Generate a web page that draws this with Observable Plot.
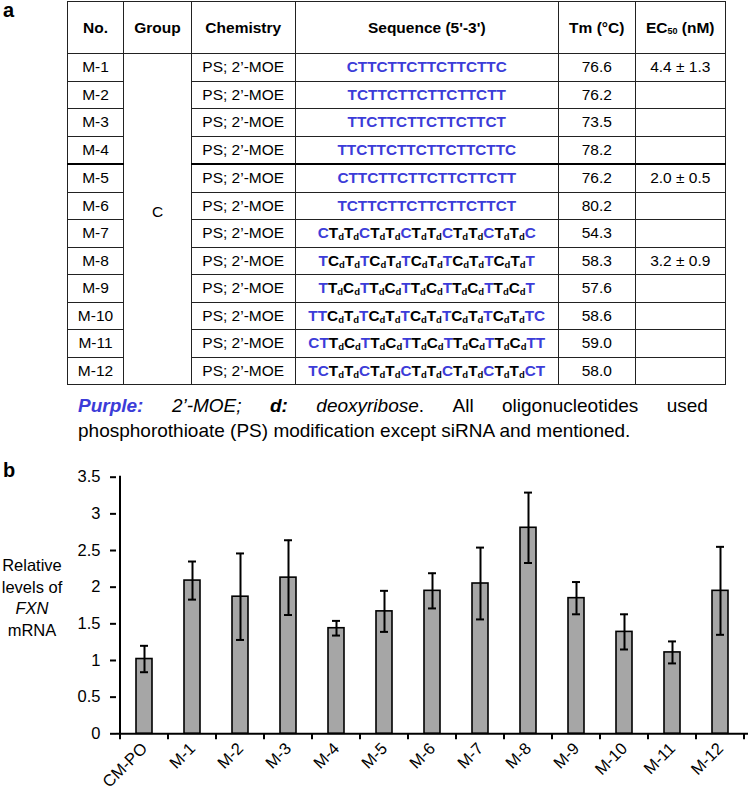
<!DOCTYPE html>
<html><head><meta charset="utf-8">
<script src="https://cdn.jsdelivr.net/npm/d3@7"></script>
<script src="https://cdn.jsdelivr.net/npm/@observablehq/plot@0.6"></script>
<style>
html,body{margin:0;padding:0;background:#fff;}
#wrap{position:relative;width:750px;height:795px;overflow:hidden;font-family:"Liberation Sans",Arial,sans-serif;color:#000;}
.panel{position:absolute;left:3px;font-weight:bold;font-size:20px;line-height:20px;}
table{position:absolute;left:67px;top:1px;border-collapse:collapse;table-layout:fixed;font-size:15.5px;}
td,th{border:1.3px solid #222;padding:0;text-align:center;vertical-align:middle;white-space:nowrap;}
th{height:51px;font-weight:bold;}
td{height:26.5px;}
.seq{font-weight:bold;font-size:15.3px;}
.m{color:#3c3cd8;}
.seq sub{font-size:9.5px;vertical-align:-2px;line-height:0;}
th sub{font-size:9px;vertical-align:-1px;line-height:0;}
tr.sep td{border-top:2.6px solid #000;}
td.grp{padding-bottom:14px;}
#caption{position:absolute;left:78px;top:393px;width:630px;font-size:19px;line-height:25px;}
#cap1{display:flex;justify-content:space-between;white-space:nowrap;}
#cap2{white-space:nowrap;}
#caption .p{color:#3c3cd8;font-weight:bold;font-style:italic;}
#ylab{position:absolute;left:0;top:555px;width:64px;text-align:center;font-size:16.5px;line-height:21.7px;}
#chart{position:absolute;left:0;top:450px;}
</style>
</head><body>
<div id="wrap">
  <div class="panel" style="top:0px">a</div>
  <div class="panel" style="top:460px">b</div>
  <table id="tbl"></table>
  <div id="caption"><div id="cap1"></div><div id="cap2"></div></div>
  <div id="ylab">Relative<br>levels of<br><i>FXN</i><br>mRNA</div>
  <div id="chart"></div>
</div>
<script>
// ---- table data ----
const headers = ["No.", "Group", "Chemistry", "Sequence (5'-3')", "Tm (°C)", "EC<sub>50</sub> (nM)"];
const colWidths = [56, 68, 103.5, 263.5, 76.5, 90.5];
const ids = ["M-1","M-2","M-3","M-4","M-5","M-6","M-7","M-8","M-9","M-10","M-11","M-12"];
const group = "C";
const chemistry = ["PS; 2’-MOE","PS; 2’-MOE","PS; 2’-MOE","PS; 2’-MOE","PS; 2’-MOE","PS; 2’-MOE",
                   "PS; 2’-MOE","PS; 2’-MOE","PS; 2’-MOE","PS; 2’-MOE","PS; 2’-MOE","PS; 2’-MOE"];
// a capital letter followed by "d" is a deoxyribose nucleotide (black, subscript d); otherwise 2'-MOE (purple)
const sequences = [
  "CTTCTTCTTCTTCTTC",
  "TCTTCTTCTTCTTCTT",
  "TTCTTCTTCTTCTTCT",
  "TTCTTCTTCTTCTTCTTC",
  "CTTCTTCTTCTTCTTCTT",
  "TCTTCTTCTTCTTCTTCT",
  "CTdTdCTdTdCTdTdCTdTdCTdTdC",
  "TCdTdTCdTdTCdTdTCdTdTCdTdT",
  "TTdCdTTdCdTTdCdTTdCdTTdCdT",
  "TTCdTdTCdTdTCdTdTCdTdTCdTdTC",
  "CTTdCdTTdCdTTdCdTTdCdTTdCdTT",
  "TCTdTdCTdTdCTdTdCTdTdCTdTdCT"
];
const tm = ["76.6","76.2","73.5","78.2","76.2","80.2","54.3","58.3","57.6","58.6","59.0","58.0"];
const ec50 = ["4.4 ± 1.3","","","","2.0 ± 0.5","","","3.2 ± 0.9","","","",""];

// caption pieces
const captionLine1 = [
  '<span class="p">Purple:</span>', '<i>2’-MOE;</i>', '<b><i>d:</i></b>',
  '<i>deoxyribose</i>.', 'All', 'oligonucleotides', 'used'
];
const captionLine2 = "phosphorothioate (PS) modification except siRNA and mentioned.";

// ---- chart data ----
const categories = ["CM-PO","M-1","M-2","M-3","M-4","M-5","M-6","M-7","M-8","M-9","M-10","M-11","M-12"];
const means  = [1.02, 2.09, 1.87, 2.13, 1.44, 1.67, 1.95, 2.05, 2.81, 1.85, 1.39, 1.11, 1.95];
const errors = [0.18, 0.26, 0.59, 0.51, 0.10, 0.28, 0.24, 0.49, 0.48, 0.22, 0.24, 0.15, 0.60];
const yTicks = [0, 0.5, 1, 1.5, 2, 2.5, 3, 3.5];

// ---- build table ----
function seqHTML(s) {
  let out = "";
  for (let i = 0; i < s.length; i++) {
    const ch = s[i];
    if (s[i+1] === "d") { out += ch + "<sub>d</sub>"; i++; }
    else out += '<span class="m">' + ch + '</span>';
  }
  return out;
}
let html = "<colgroup>" + colWidths.map(w => `<col style="width:${w}px">`).join("") + "</colgroup>";
html += "<tr>" + headers.map(h => `<th>${h}</th>`).join("") + "</tr>";
ids.forEach((id, i) => {
  html += `<tr${i === 4 ? ' class="sep"' : ''}>`;
  html += `<td>${id}</td>`;
  if (i === 0) html += `<td class="grp" rowspan="${ids.length}">${group}</td>`;
  html += `<td>${chemistry[i]}</td><td class="seq">${seqHTML(sequences[i])}</td><td>${tm[i]}</td><td>${ec50[i]}</td></tr>`;
});
document.getElementById("tbl").innerHTML = html;

document.getElementById("cap1").innerHTML = captionLine1.map(p => `<span>${p}</span>`).join("");
document.getElementById("cap2").textContent = captionLine2;

// ---- chart ----
const data = categories.map((c, i) => ({cat: c, mean: means[i], err: errors[i]}));

// Excel-style axes: y-axis line at the left band edge, x ticks on category boundaries
function excelAxes(index, scales, values, dims) {
  const x = scales.x, y = scales.y;
  const step = x(categories[1]) - x(categories[0]);
  const bw = typeof x.bandwidth === "function" ? x.bandwidth() : step * 0.33;
  const y0 = y(0);
  const g = d3.create("svg:g").attr("stroke", "#000").attr("stroke-width", 2).attr("fill", "none");
  const bounds = categories.map(c => x(c) - (step - bw) / 2);
  bounds.push(bounds[bounds.length - 1] + step);
  for (const b of bounds) g.append("line").attr("x1", b).attr("x2", b).attr("y1", y0).attr("y2", y0 + 6);
  g.append("line").attr("x1", bounds[0]).attr("x2", bounds[0])
    .attr("y1", y(yTicks[yTicks.length - 1]) - 1).attr("y2", y0 + 1);
  return g.node();
}

const chart = Plot.plot({
  width: 750, height: 345,
  marginLeft: 116, marginRight: 2, marginTop: 26.7, marginBottom: 61.7,
  style: {fontFamily: "Liberation Sans, Arial, sans-serif", fontSize: "16.5px", color: "#000", background: "transparent", overflow: "visible"},
  x: {domain: categories, paddingInner: 0.67, paddingOuter: 0.335, label: null},
  y: {domain: [0, 3.5], label: null},
  marks: [
    Plot.barY(data, {x: "cat", y: "mean", fill: "#a6a6a6", stroke: "#000", strokeWidth: 1.6}),
    Plot.ruleX(data, {x: "cat", y1: d => d.mean - d.err, y2: d => d.mean + d.err, stroke: "#000", strokeWidth: 2}),
    Plot.tickY(data, {x: "cat", y: d => d.mean + d.err, insetLeft: 4, insetRight: 4, stroke: "#000", strokeWidth: 2}),
    Plot.tickY(data, {x: "cat", y: d => d.mean - d.err, insetLeft: 4, insetRight: 4, stroke: "#000", strokeWidth: 2}),
    Plot.ruleY([0], {stroke: "#000", strokeWidth: 2}),
    Plot.axisY({ticks: yTicks, tickFormat: d => String(d), tickSize: 6, tickPadding: 10, strokeWidth: 2, label: null, fill: "#000"}),
    Plot.axisX({tickSize: 0, tickPadding: 12, tickRotate: -45, label: null, fill: "#000"}),
    excelAxes
  ]
});
document.getElementById("chart").appendChild(chart);
</script>
</body></html>
